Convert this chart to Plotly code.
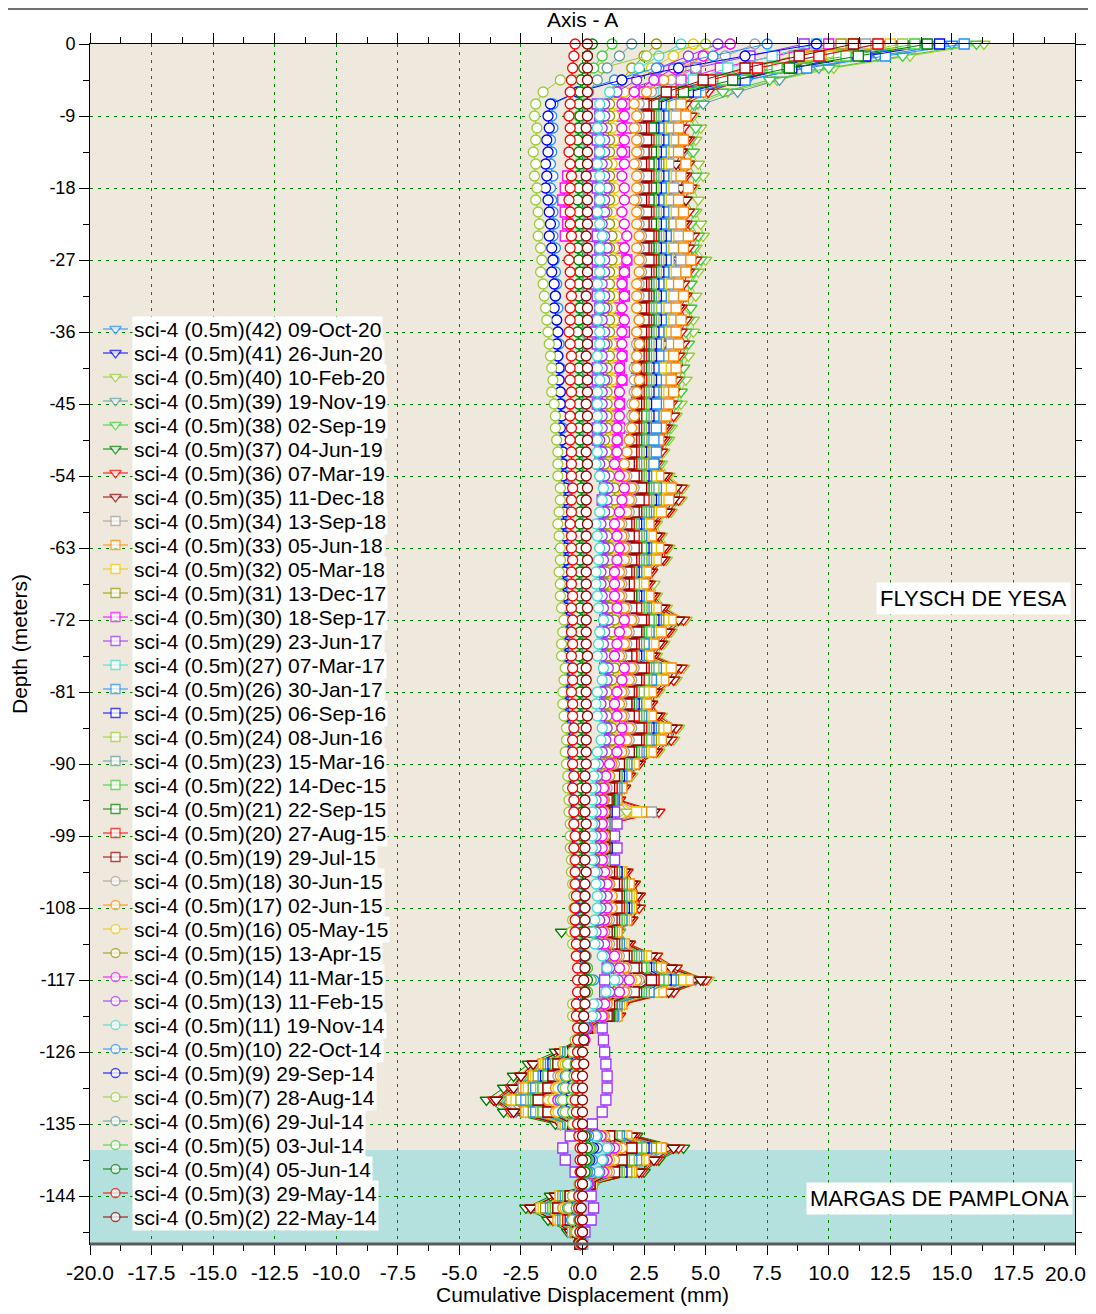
import plotly.graph_objects as go

# Inclinometer sci-4, axis A: cumulative displacement (mm) read every 1.5 m of depth
DEPTH_STEP = 1.5
depths = [-DEPTH_STEP * i for i in range(101)]

depth_ticks = [0, -9, -18, -27, -36, -45, -54, -63, -72, -81, -90, -99, -108, -117, -126, -135, -144]
depth_tick_text = ["0", "-9", "-18", "-27", "-36", "-45", "-54", "-63", "-72", "-81", "-90",
                   "-99", "-108", "-117", "-126", "-135", "-144"]
disp_ticks = [-20, -17.5, -15, -12.5, -10, -7.5, -5, -2.5, 0, 2.5, 5, 7.5, 10, 12.5, 15, 17.5, 20]
disp_tick_text = ["-20.0", "-17.5", "-15.0", "-12.5", "-10.0", "-7.5", "-5.0", "-2.5", "0.0",
                  "2.5", "5.0", "7.5", "10.0", "12.5", "15.0", "17.5", "20.0"]

labels = [
    "sci-4 (0.5m)(42) 09-Oct-20", "sci-4 (0.5m)(41) 26-Jun-20", "sci-4 (0.5m)(40) 10-Feb-20",
    "sci-4 (0.5m)(39) 19-Nov-19", "sci-4 (0.5m)(38) 02-Sep-19", "sci-4 (0.5m)(37) 04-Jun-19",
    "sci-4 (0.5m)(36) 07-Mar-19", "sci-4 (0.5m)(35) 11-Dec-18", "sci-4 (0.5m)(34) 13-Sep-18",
    "sci-4 (0.5m)(33) 05-Jun-18", "sci-4 (0.5m)(32) 05-Mar-18", "sci-4 (0.5m)(31) 13-Dec-17",
    "sci-4 (0.5m)(30) 18-Sep-17", "sci-4 (0.5m)(29) 23-Jun-17", "sci-4 (0.5m)(27) 07-Mar-17",
    "sci-4 (0.5m)(26) 30-Jan-17", "sci-4 (0.5m)(25) 06-Sep-16", "sci-4 (0.5m)(24) 08-Jun-16",
    "sci-4 (0.5m)(23) 15-Mar-16", "sci-4 (0.5m)(22) 14-Dec-15", "sci-4 (0.5m)(21) 22-Sep-15",
    "sci-4 (0.5m)(20) 27-Aug-15", "sci-4 (0.5m)(19) 29-Jul-15", "sci-4 (0.5m)(18) 30-Jun-15",
    "sci-4 (0.5m)(17) 02-Jun-15", "sci-4 (0.5m)(16) 05-May-15", "sci-4 (0.5m)(15) 13-Apr-15",
    "sci-4 (0.5m)(14) 11-Mar-15", "sci-4 (0.5m)(13) 11-Feb-15", "sci-4 (0.5m)(11) 19-Nov-14",
    "sci-4 (0.5m)(10) 22-Oct-14", "sci-4 (0.5m)(9) 29-Sep-14", "sci-4 (0.5m)(7) 28-Aug-14",
    "sci-4 (0.5m)(6) 29-Jul-14", "sci-4 (0.5m)(5) 03-Jul-14", "sci-4 (0.5m)(4) 05-Jun-14",
    "sci-4 (0.5m)(3) 29-May-14", "sci-4 (0.5m)(2) 22-May-14",
]

s42 = [15.0, 12.0, 9.0, 6.7, 4.8,
       3.5, 3.6, 3.4, 3.6, 3.5, 3.3, 3.6, 3.5, 3.4, 3.6, 3.5, 3.7, 3.5, 3.8, 3.6, 3.4, 3.5, 3.3, 3.4, 3.3, 3.4, 3.2, 3.1, 3.2, 3.1, 3.0, 2.9, 2.8, 2.7, 2.6, 2.5,
       2.7, 3.2, 3.1, 2.8, 2.3, 2.5, 2.7, 2.6, 2.2, 2.1, 2.3, 2.6, 3.3, 2.8, 2.5, 2.3, 3.2, 3.0, 2.4, 2.2, 2.4, 3.1, 2.9, 2.4,
       1.8, 1.6, 1.4, 1.3, 1.1, 0.9, 1.0, 1.1, 0.9, 1.5, 1.8, 2.0, 2.0, 1.7, 1.3, 1.6, 2.6, 3.2, 4.4, 3.2, 1.5, 1.3,
       0.2, -0.1, -0.8, -1.7, -2.2, -2.5, -3.1, -2.5, -0.8, 1.8, 3.4, 2.6, 2.1, 0.4, -1.0, -1.8, -1.0, -0.4, -0.1]
s41 = [13.5, 10.9, 8.4, 6.4, 4.7,
       3.6, 3.7, 3.5, 3.8, 3.6, 3.4, 3.7, 3.6, 3.5, 3.7, 3.6, 3.8, 3.6, 3.9, 3.7, 3.5, 3.6, 3.4, 3.5, 3.4, 3.3, 3.3, 3.1, 3.2, 3.1, 2.9, 3.0, 2.6, 2.7, 2.4, 2.2,
       2.2, 2.5, 2.4, 2.3, 1.9, 2.1, 2.2, 2.2, 1.9, 1.8, 2.0, 2.2, 2.6, 2.3, 2.1, 1.9, 2.5, 2.3, 2.0, 1.9, 2.1, 2.4, 2.3, 2.0,
       1.6, 1.4, 1.3, 1.2, 1.0, 0.8, 0.9, 1.0, 0.8, 1.4, 1.7, 1.8, 1.8, 1.6, 1.2, 1.5, 2.4, 3.0, 4.0, 2.9, 1.4, 1.2,
       0.2, -0.1, -0.7, -1.6, -2.0, -2.3, -2.9, -2.3, -0.7, 1.8, 3.2, 2.5, 2.0, 0.4, -0.9, -1.7, -1.0, -0.3, -0.1]
s40 = [16.3, 13.3, 10.2, 7.9, 5.9,
       4.7, 4.5, 4.8, 4.6, 4.4, 4.7, 4.9, 4.5, 4.7, 4.6, 4.8, 4.9, 4.6, 5.0, 4.7, 4.4, 4.6, 4.3, 4.5, 4.5, 4.2, 4.3, 4.1, 4.2, 4.0, 4.0, 3.8, 3.6, 3.5, 3.3, 3.2,
       3.5, 4.1, 4.0, 3.6, 3.0, 3.2, 3.5, 3.4, 2.8, 2.9, 3.0, 3.4, 4.2, 3.6, 3.3, 3.0, 4.1, 3.8, 3.1, 2.8, 3.2, 3.9, 3.7, 3.1,
       2.3, 2.0, 1.7, 1.5, 1.8, 1.1, 1.2, 1.1, 1.1, 1.8, 2.1, 2.3, 2.3, 2.0, 1.5, 1.9, 3.0, 3.8, 5.1, 3.7, 1.7, 1.5,
       0.3, -0.2, -1.0, -2.0, -2.6, -3.0, -3.6, -3.0, -1.0, 2.1, 3.9, 3.1, 2.4, 0.4, -1.2, -2.2, -1.3, -0.5, -0.1]
s39 = [14.0, 11.6, 9.6, 8.0, 6.3,
       4.9, 4.2, 4.0, 4.3, 4.1, 4.0, 4.2, 3.9, 4.2, 4.1, 4.0, 4.4, 4.2, 4.4, 4.1, 4.0, 4.1, 3.9, 4.1, 3.9, 4.0, 3.8, 3.7, 3.7, 3.6, 3.5, 3.6, 3.3, 3.2, 3.1, 3.0,
       3.2, 3.8, 3.7, 3.3, 2.8, 2.9, 3.2, 3.1, 2.7, 2.6, 2.8, 3.1, 3.9, 3.3, 3.0, 2.8, 3.8, 3.5, 2.9, 2.7, 2.9, 3.6, 3.4, 2.9,
       2.2, 1.9, 1.6, 1.4, 1.1, 1.0, 1.0, 1.1, 1.0, 1.7, 1.9, 2.1, 2.1, 1.8, 1.4, 1.8, 2.7, 3.5, 4.6, 3.4, 1.6, 1.4,
       0.2, -0.1, -0.9, -1.9, -2.3, -2.7, -3.3, -2.7, -0.9, 1.9, 3.5, 2.7, 2.2, 0.4, -1.0, -1.9, -1.1, -0.4, -0.1]
s38 = [16.0, 13.0, 10.0, 7.6, 5.7,
       4.5, 4.3, 4.6, 4.4, 4.5, 4.3, 4.6, 4.4, 4.2, 4.5, 4.4, 4.7, 4.5, 4.8, 4.5, 4.4, 4.2, 4.4, 4.3, 4.2, 4.3, 4.0, 4.1, 3.9, 4.0, 3.8, 3.7, 3.5, 3.4, 3.2, 3.1,
       3.4, 3.9, 3.8, 3.5, 2.9, 3.1, 3.4, 3.3, 2.8, 2.7, 2.9, 3.3, 4.0, 3.5, 3.2, 2.9, 3.9, 3.7, 3.0, 2.8, 3.1, 3.8, 3.5, 3.0,
       2.3, 1.9, 1.7, 1.5, 1.2, 1.1, 1.0, 1.1, 1.1, 1.8, 2.1, 2.3, 2.2, 2.0, 1.5, 1.9, 2.9, 3.7, 4.9, 3.6, 1.7, 1.5,
       0.3, -0.1, -0.9, -1.9, -2.4, -2.8, -3.4, -2.8, -0.9, 2.1, 3.8, 2.9, 2.3, 0.5, -1.1, -2.0, -1.2, -0.4, -0.1]
s37 = [13.0, 10.4, 7.7, 5.7, 4.0,
       2.9, 3.0, 2.8, 3.1, 2.9, 2.8, 3.0, 2.9, 3.1, 2.8, 3.0, 3.0, 3.1, 2.9, 3.0, 2.8, 2.9, 2.7, 2.9, 2.8, 2.7, 2.8, 2.6, 2.7, 2.6, 2.7, 2.5, 2.5, 2.4, 2.4, 2.3,
       2.8, 3.4, 3.3, 2.9, 2.3, 2.5, 2.8, 2.7, 2.2, 2.1, 2.3, 2.7, 3.5, 2.9, 2.6, 2.3, 3.4, 3.1, 2.4, 2.2, 2.5, 3.2, 3.0, 2.4,
       1.8, 1.6, 1.4, 1.3, 1.0, 0.9, 1.0, 1.0, 0.9, 1.6, 1.9, 2.1, 2.1, 1.8, -0.85, 1.7, 2.8, 3.6, 4.9, 3.5, 1.5, 1.3,
       0.2, -0.2, -1.1, -2.2, -2.8, -3.2, -3.9, -3.2, -1.1, 2.2, 4.1, 3.1, 2.5, 0.4, -1.3, -2.3, -1.4, -0.6, -0.1]
s36 = [12.5, 10.3, 8.2, 6.5, 5.1,
       4.2, 4.4, 4.1, 4.3, 4.0, 4.3, 4.2, 4.4, 4.1, 4.3, 4.2, 4.5, 4.3, 4.6, 4.3, 4.1, 4.2, 4.0, 4.2, 4.0, 4.1, 3.9, 3.8, 3.8, 3.7, 3.6, 3.7, 3.4, 3.3, 3.2, 3.0,
       3.4, 4.0, 3.9, 3.5, 2.9, 3.1, 3.4, 3.3, 2.8, 2.7, 2.9, 3.3, 4.1, 3.5, 3.2, 2.9, 4.0, 3.7, 3.0, 2.8, 3.1, 3.8, 3.6, 3.0,
       2.3, 1.9, 1.7, 1.5, 3.1, 1.1, 1.0, 1.1, 1.1, 1.8, 2.1, 2.3, 2.3, 2.0, 1.4, 1.9, 3.0, 3.8, 5.0, 3.7, 1.7, 1.5,
       0.3, -0.2, -0.9, -2.0, -2.5, -2.9, -3.6, -2.9, -0.9, 2.1, 3.9, 3.0, 2.4, 0.4, -1.1, -2.1, -1.2, -0.5, -0.1]
s35 = [12.0, 9.9, 7.8, 6.2, 4.9,
       4.0, 4.1, 3.9, 4.2, 4.0, 3.8, 4.1, 4.0, 4.2, 3.9, 4.1, 4.3, 4.1, 4.4, 4.2, 3.9, 4.1, 3.9, 4.0, 3.8, 3.9, 3.7, 3.8, 3.6, 3.7, 3.5, 3.4, 3.3, 3.2, 3.0, 2.9,
       3.3, 3.8, 3.7, 3.4, 2.8, 3.0, 3.3, 3.2, 2.7, 2.6, 2.8, 3.2, 3.9, 3.4, 3.1, 2.8, 3.8, 3.5, 2.9, 2.7, 3.0, 3.6, 3.4, 2.9,
       2.2, 1.8, 1.6, 1.4, 2.9, 1.0, 1.0, 1.1, 1.0, 1.7, 2.0, 2.2, 2.1, 1.9, 1.3, 1.8, 2.8, 3.6, 4.8, 3.5, 1.6, 1.4,
       0.2, -0.2, -0.9, -2.0, -2.5, -2.8, -3.5, -2.8, -0.9, 2.0, 3.7, 2.9, 2.3, 0.4, -1.1, -2.1, -1.2, -0.5, -0.1]
s34 = [11.5, 9.5, 7.4, 5.9, 4.6,
       3.7, 3.8, 3.6, 3.8, 3.7, 3.5, 3.8, 3.7, 3.6, 3.8, 3.7, 3.9, 3.7, 4.0, 3.8, 3.6, 3.7, 3.5, 3.6, 3.5, 3.6, 3.4, 3.5, 3.4, 3.3, 3.2, 3.3, 3.0, 3.0, 2.9, 2.7,
       3.0, 3.5, 3.4, 3.1, 2.6, 2.7, 3.0, 2.9, 2.5, 2.4, 2.6, 2.9, 3.5, 3.1, 2.8, 2.6, 3.5, 3.2, 2.7, 2.5, 2.7, 3.3, 3.1, 2.7,
       2.0, 1.7, 1.5, 1.3, 2.8, 1.0, 0.9, 1.0, 1.0, 1.5, 1.8, 1.9, 1.9, 1.7, 1.3, 1.6, 2.5, 3.1, 4.2, 3.1, 1.5, 1.3,
       0.3, -0.1, -0.7, -1.5, -2.0, -2.4, -2.8, -2.3, -0.8, 1.7, 3.2, 2.4, 2.0, 0.3, -0.9, -1.6, -0.9, -0.4, -0.1]
s33 = [11.0, 9.2, 7.4, 6.0, 4.8,
       4.0, 4.2, 3.9, 4.1, 3.9, 4.2, 4.0, 4.3, 3.9, 4.1, 4.0, 4.3, 4.1, 4.4, 4.2, 3.9, 4.1, 3.8, 4.0, 3.8, 3.9, 3.7, 3.8, 3.6, 3.7, 3.5, 3.4, 3.2, 3.1, 3.0, 2.8,
       3.1, 3.6, 3.5, 3.2, 2.7, 2.8, 3.1, 3.0, 2.6, 2.5, 2.7, 3.0, 3.6, 3.2, 2.9, 2.7, 3.6, 3.3, 2.8, 2.6, 2.8, 3.4, 3.2, 2.8,
       2.1, 1.8, 1.6, 1.4, 2.4, 1.0, 1.0, 1.1, 1.0, 1.6, 1.9, 2.0, 2.0, 1.8, 1.4, 1.7, 2.6, 3.2, 4.3, 3.2, 1.6, 1.4,
       0.3, -0.1, -0.7, -1.6, -2.0, -2.3, -2.9, -2.3, -0.7, 1.8, 3.2, 2.5, 2.0, 0.4, -0.9, -1.7, -1.0, -0.3, -0.1]
s32 = [12.5, 10.1, 7.7, 5.9, 4.3,
       3.3, 3.4, 3.2, 3.4, 3.3, 3.2, 3.4, 3.3, 3.2, 3.4, 3.3, 3.5, 3.3, 3.5, 3.4, 3.2, 3.3, 3.1, 3.3, 3.2, 3.1, 3.0, 3.2, 3.0, 3.1, 2.9, 2.9, 2.7, 2.8, 2.6, 2.5,
       2.8, 3.2, 3.1, 2.8, 2.4, 2.5, 2.8, 2.7, 2.3, 2.2, 2.4, 2.7, 3.3, 2.8, 2.6, 2.4, 3.2, 3.0, 2.5, 2.3, 2.5, 3.1, 2.9, 2.5,
       1.9, 1.6, 1.4, 1.3, 2.2, 1.0, 0.9, 1.0, 0.9, 1.5, 1.7, 1.9, 1.9, 1.7, 1.3, 1.6, 2.4, 3.0, 4.0, 2.9, 1.5, 1.3,
       0.2, -0.1, -0.7, -1.5, -1.9, -2.2, -2.7, -2.2, -0.7, 1.6, 3.0, 2.3, 1.9, 0.3, -0.9, -1.6, -0.9, -0.3, -0.1]
s31 = [10.5, 8.6, 6.7, 5.2, 4.0,
       3.2, 3.3, 3.1, 3.3, 3.2, 3.1, 3.3, 3.2, 3.1, 3.2, 3.3, 3.4, 3.2, 3.4, 3.3, 3.1, 3.2, 3.0, 3.2, 3.1, 3.0, 3.0, 2.9, 2.9, 3.0, 2.8, 2.8, 2.6, 2.7, 2.5, 2.4,
       2.6, 3.0, 3.0, 2.7, 2.3, 2.4, 2.6, 2.6, 2.2, 2.1, 2.3, 2.6, 3.1, 2.7, 2.5, 2.3, 3.0, 2.8, 2.3, 2.2, 2.4, 2.9, 2.8, 2.4,
       1.8, 1.5, 1.3, 1.2, 1.0, 0.9, 0.9, 1.0, 0.9, 1.4, 1.6, 1.8, 1.8, 1.6, 1.2, 1.5, 2.3, 2.8, 3.7, 2.7, 1.4, 1.2,
       0.2, -0.1, -0.6, -1.4, -1.8, -2.0, -2.5, -2.0, -0.6, 1.5, 2.8, 2.2, 1.8, 0.3, -0.8, -1.5, -0.8, -0.3, -0.1]
s30 = [10.0, 7.8, 5.6, 4.0, 2.5,
       1.7, 1.6, 1.8, 1.5, 1.7, 1.4, -0.6, -0.7, -0.8, -0.7, -0.6, -0.7, 1.6, 1.8, 1.7, 1.6, 1.7, 1.5, 1.6, 1.7, 1.5, 1.6, 1.5, 1.6, 1.4, 1.5, 1.4, 1.5, 1.4, 1.3, 1.4,
       1.7, 2.0, 1.9, 1.7, 1.4, 1.5, 1.7, 1.6, 1.4, 1.3, 1.5, 1.6, 2.0, 1.7, 1.6, 1.4, 2.0, 1.8, 1.5, 1.4, 1.5, 1.9, 1.8, 1.5,
       1.2, 1.1, 1.1, 1.0, 0.9, 0.8, 0.8, 0.9, 0.8, 1.1, 1.3, 1.4, 1.4, 1.2, 1.0, 1.2, 1.7, 2.1, 2.8, 2.1, 1.1, 1.0,
       0.2, 0.0, -0.4, -0.9, -1.2, -1.4, -1.8, -1.4, -0.4, 1.1, 2.0, 1.6, 1.3, 0.3, -0.5, -1.0, -0.5, -0.2, 0.0]
s29 = [9.0, 6.8, 4.6, 3.0, 1.5,
       0.6, 0.7, 0.5, 0.6, 0.7, 0.6, 0.5, 0.6, 0.7, 0.6, 0.5, 0.6, 0.7, 0.6, 0.6, 0.5, 0.6, 0.7, 0.6, 0.5, 0.6, 0.7, 0.6, 0.6, 0.5, 0.6, 0.7, 0.6, 0.6, 0.7, 0.7,
       0.8, 0.9, 0.8, 0.9, 0.8, 0.9, 1.0, 0.9, 0.8, 0.9, 0.9, 1.0, 0.9, 0.8, 0.9, 1.0, 0.9, 1.0, 0.9, 1.0, 1.1, 1.0, 1.1, 1.0,
       1.1, 1.2, 1.2, 1.3, 1.3, 1.4, 1.3, 1.4, 1.3, 1.4, 1.3, 1.4, 1.3, 1.2, 1.1, 1.2, 1.1, 1.0, 0.9, 0.9, 0.9, 0.85,
       0.8, 0.85, 0.9, 0.95, 1.0, 1.0, 0.95, 0.8, 0.4, -0.5, -0.8, -0.7, -0.3, 0.1, 0.35, 0.45, 0.35, 0.1, 0.0]
s27 = [9.5, 7.7, 5.9, 4.5, 3.3,
       2.5, 2.6, 2.4, 2.6, 2.5, 2.4, 2.6, 2.5, 2.4, 2.6, 2.5, 2.6, 2.5, 2.7, 2.5, 2.4, 2.5, 2.4, 2.5, 2.4, 2.5, 2.4, 2.3, 2.4, 2.3, 2.3, 2.2, 2.2, 2.1, 2.1, 2.0,
       2.2, 2.6, 2.5, 2.3, 1.9, 2.1, 2.2, 2.2, 1.9, 1.8, 2.0, 2.2, 2.6, 2.3, 2.1, 1.9, 2.6, 2.4, 2.0, 1.9, 2.1, 2.5, 2.3, 2.0,
       1.6, 1.4, 1.2, 1.1, 0.9, 0.8, 0.9, 0.9, 0.8, 1.3, 1.4, 1.5, 1.5, 1.4, 1.1, 1.3, 1.9, 2.4, 3.1, 2.3, 1.2, 1.1,
       0.2, 0.0, -0.4, -1.0, -1.3, -1.5, -1.9, -1.5, -0.4, 1.3, 2.3, 1.8, 1.5, 0.3, -0.5, -1.1, -0.6, -0.2, 0.0]
s26 = [15.5, 12.3, 9.1, 6.6, 4.6,
       3.2, 3.3, 3.1, 3.3, 3.2, 3.0, 3.3, 3.2, 3.1, 3.3, 3.2, 3.4, 3.2, 3.4, 3.3, 3.1, 3.2, 3.0, 3.2, 3.1, 3.0, 3.1, 2.9, 3.0, 2.9, 3.0, 2.9, 3.0, 2.9, 3.0, 2.9,
       2.6, 3.0, 2.9, 2.6, 2.3, 2.4, 2.6, 2.5, 2.2, 2.1, 2.3, 2.5, 3.0, 2.7, 2.5, 2.3, 3.0, 2.8, 2.3, 2.2, 2.4, 2.8, 2.7, 2.3,
       1.8, 1.6, 1.4, 1.25, 1.0, 0.9, 0.9, 1.0, 0.9, 1.4, 1.6, 1.7, 1.8, 1.6, 1.2, 1.5, 2.2, 2.7, 3.6, 2.7, 1.4, 1.25,
       0.2, 0.0, -0.6, -1.3, -1.6, -1.9, -2.3, -1.9, -0.6, 1.5, 2.6, 2.0, 1.6, 0.3, -0.7, -1.3, -0.8, -0.2, -0.1]
s25 = [14.5, 11.5, 8.5, 6.2, 4.3,
       3.0, 3.1, 2.9, 3.1, 3.0, 2.9, 3.1, 3.0, 2.9, 3.1, 3.0, 3.2, 3.0, 3.2, 3.1, 2.9, 3.0, 2.8, 3.0, 2.9, 2.8, 2.8, 2.7, 2.8, 2.7, 2.6, 2.7, 2.5, 2.4, 2.4, 2.3,
       2.5, 2.8, 2.8, 2.5, 2.2, 2.3, 2.5, 2.4, 2.1, 2.0, 2.2, 2.4, 2.9, 2.5, 2.3, 2.2, 2.8, 2.6, 2.2, 2.1, 2.3, 2.7, 2.6, 2.2,
       1.7, 1.5, 1.3, 1.2, 1.0, 0.9, 0.9, 1.0, 0.9, 1.4, 1.6, 1.7, 1.7, 1.5, 1.2, 1.4, 2.1, 2.6, 3.4, 2.5, 1.3, 1.2,
       0.2, 0.0, -0.5, -1.2, -1.5, -1.7, -2.1, -1.7, -0.5, 1.4, 2.5, 1.9, 1.6, 0.3, -0.6, -1.2, -0.7, -0.2, -0.1]
s24 = [13.0, 10.4, 7.7, 5.7, 4.0,
       2.9, 3.0, 2.8, 3.0, 2.9, 2.8, 3.0, 2.9, 2.8, 3.0, 2.9, 3.1, 2.9, 3.1, 3.0, 2.8, 2.9, 2.8, 2.9, 2.8, 2.7, 2.7, 2.6, 2.7, 2.6, 2.5, 2.6, 2.4, 2.4, 2.3, 2.3,
       2.4, 2.9, 2.7, 2.5, 2.1, 2.3, 2.4, 2.4, 2.0, 2.1, 2.1, 2.4, 2.8, 2.6, 2.3, 2.1, 2.9, 2.6, 2.3, 2.0, 2.3, 2.6, 2.6, 2.2,
       1.7, 1.4, 1.3, 1.2, 0.9, 0.9, 0.9, 0.9, 0.9, 1.3, 1.6, 1.7, 1.6, 1.5, 1.2, 1.4, 2.1, 2.5, 3.3, 2.5, 1.3, 1.2,
       0.2, 0.0, -0.5, -1.1, -1.4, -1.7, -2.1, -1.7, -0.5, 1.4, 2.4, 1.9, 1.5, 0.3, -0.6, -1.2, -0.7, -0.2, -0.1]
s23 = [12.0, 9.6, 7.2, 5.4, 3.8,
       2.8, 2.9, 2.7, 2.9, 2.8, 2.7, 2.9, 2.8, 2.7, 2.9, 2.8, 3.0, 2.8, 3.0, 2.9, 2.7, 2.8, 2.7, 2.8, 2.7, 2.6, 2.6, 2.5, 2.6, 2.5, 2.4, 2.5, 2.3, 2.3, 2.2, 2.2,
       2.3, 2.7, 2.6, 2.4, 2.1, 2.2, 2.3, 2.3, 2.0, 1.9, 2.1, 2.3, 2.7, 2.4, 2.2, 2.0, 2.7, 2.5, 2.1, 2.0, 2.2, 2.6, 2.4, 2.1,
       1.6, 1.4, 1.3, 1.15, 0.9, 0.9, 0.9, 0.9, 0.8, 1.3, 1.5, 1.6, 1.6, 1.4, 1.1, 1.4, 2.0, 2.4, 3.1, 2.4, 1.3, 1.15,
       0.2, 0.0, -0.5, -1.1, -1.3, -1.6, -2.0, -1.6, -0.5, 1.2, 2.2, 1.7, 1.4, 0.3, -0.6, -1.1, -0.6, -0.2, -0.1]
s22 = [13.5, 10.7, 7.9, 5.7, 3.9,
       2.7, 2.8, 2.6, 2.8, 2.7, 2.6, 2.8, 2.7, 2.6, 2.8, 2.7, 2.9, 2.7, 2.9, 2.8, 2.6, 2.7, 2.6, 2.7, 2.6, 2.5, 2.5, 2.4, 2.5, 2.4, 2.4, 2.4, 2.3, 2.2, 2.2, 2.1,
       2.3, 2.6, 2.6, 2.3, 2.0, 2.2, 2.4, 2.2, 2.0, 1.9, 2.0, 2.3, 2.7, 2.4, 2.1, 2.0, 2.6, 2.5, 2.1, 1.9, 2.2, 2.5, 2.4, 2.1,
       1.6, 1.4, 1.2, 1.1, 0.9, 0.8, 0.9, 0.9, 0.8, 1.3, 1.4, 1.5, 1.6, 1.4, 1.1, 1.3, 1.9, 2.4, 3.1, 2.3, 1.2, 1.1,
       0.2, 0.0, -0.5, -1.1, -1.4, -1.6, -1.9, -1.6, -0.5, 1.2, 2.2, 1.7, 1.4, 0.3, -0.6, -1.1, -0.6, -0.2, -0.1]
s21 = [14.0, 11.2, 8.4, 6.1, 4.1,
       2.9, 2.7, 2.8, 2.6, 2.8, 2.7, 2.6, 2.8, 2.7, 2.6, 2.8, 2.9, 2.7, 2.9, 2.8, 2.6, 2.7, 2.5, 2.7, 2.6, 2.5, 2.5, 2.4, 2.4, 2.3, 2.3, 2.2, 2.1, 2.2, 2.0, 2.0,
       2.2, 2.5, 2.4, 2.2, 1.9, 2.0, 2.2, 2.1, 1.9, 1.8, 2.0, 2.1, 2.5, 2.3, 2.1, 1.9, 2.5, 2.3, 2.0, 1.9, 2.0, 2.4, 2.3, 2.0,
       1.5, 1.3, 1.2, 1.1, 0.9, 0.8, 0.9, 0.9, 0.8, 1.2, 1.4, 1.5, 1.5, 1.3, 1.1, 1.3, 1.8, 2.2, 2.9, 2.2, 1.2, 1.1,
       0.2, 0.0, -0.4, -1.0, -1.2, -1.4, -1.8, -1.4, -0.4, 1.1, 2.0, 1.6, 1.3, 0.3, -0.5, -1.0, -0.5, -0.2, -0.1]
s20 = [12.0, 9.6, 7.1, 5.2, 3.6,
       2.6, 2.7, 2.5, 2.7, 2.6, 2.5, 2.7, 2.6, 2.5, 2.7, 2.6, 2.8, 2.6, 2.8, 2.7, 2.5, 2.6, 2.5, 2.6, 2.5, 2.4, 2.4, 2.3, 2.4, 2.3, 2.3, 2.2, 2.2, 2.1, 2.1, 2.0,
       2.2, 2.4, 2.5, 2.2, 1.9, 2.1, 2.2, 2.1, 1.9, 1.9, 1.9, 2.2, 2.5, 2.2, 2.1, 2.0, 2.5, 2.3, 2.0, 1.8, 2.1, 2.4, 2.3, 1.9,
       1.5, 1.3, 1.2, 1.05, 0.9, 0.8, 0.9, 0.9, 0.8, 1.2, 1.4, 1.4, 1.5, 1.3, 1.0, 1.3, 1.8, 2.2, 2.9, 2.1, 1.1, 1.05,
       0.2, 0.0, -0.4, -0.9, -1.2, -1.4, -1.7, -1.4, -0.4, 1.1, 2.0, 1.6, 1.3, 0.3, -0.5, -1.0, -0.6, -0.2, -0.1]
s19 = [11.0, 8.8, 6.6, 4.9, 3.4,
       2.5, 2.6, 2.4, 2.6, 2.5, 2.4, 2.6, 2.5, 2.4, 2.6, 2.5, 2.7, 2.5, 2.7, 2.6, 2.4, 2.5, 2.4, 2.5, 2.4, 2.3, 2.3, 2.2, 2.3, 2.2, 2.2, 2.1, 2.1, 2.0, 2.0, 1.9,
       2.1, 2.4, 2.3, 2.1, 1.8, 1.9, 2.1, 2.0, 1.8, 1.7, 1.9, 2.0, 2.4, 2.2, 2.0, 1.8, 2.4, 2.2, 1.9, 1.8, 1.9, 2.3, 2.2, 1.9,
       1.5, 1.3, 1.1, 1.0, 0.9, 0.8, 0.8, 0.9, 0.8, 1.1, 1.3, 1.4, 1.4, 1.2, 1.0, 1.2, 1.7, 2.1, 2.8, 2.1, 1.1, 1.0,
       0.2, 0.0, -0.4, -1.0, -1.2, -1.4, -1.8, -1.4, -0.4, 1.1, 2.0, 1.6, 1.3, 0.3, -0.5, -1.0, -0.5, -0.2, -0.1]
s18 = [7.0, 5.8, 4.6, 3.6, 2.8,
       2.3, 2.3, 2.2, 2.3, 2.3, 2.2, 2.3, 2.3, 2.2, 2.3, 2.3, 2.4, 2.3, 2.4, 2.4, 2.3, 2.3, 2.2, 2.3, 2.2, 2.2, 2.2, 2.1, 2.1, 2.1, 2.0, 2.0, 1.9, 1.9, 1.8, 1.7,
       1.8, 2.1, 2.0, 1.9, 1.6, 1.7, 1.8, 1.8, 1.6, 1.6, 1.6, 1.8, 2.1, 1.9, 1.8, 1.6, 2.1, 2.0, 1.7, 1.6, 1.7, 2.0, 1.9, 1.7,
       1.3, 1.1, 1.0, 0.9, 0.9, 0.9, 0.9, 0.9, 0.9, 1.0, 1.1, 1.2, 1.2, 1.1, 0.9, 1.1, 1.5, 1.8, 2.3, 1.8, 1.0, 0.9,
       0.2, 0.0, -0.3, -0.8, -1.0, -1.1, -1.4, -1.1, -0.3, 0.9, 1.6, 1.3, 1.1, 0.25, -0.4, -0.8, -0.4, -0.1, 0.0]
s17 = [6.0, 5.0, 4.0, 3.3, 2.6,
       2.1, 2.2, 2.1, 2.2, 2.2, 2.1, 2.2, 2.2, 2.1, 2.2, 2.2, 2.3, 2.2, 2.3, 2.3, 2.2, 2.2, 2.2, 2.3, 2.2, 2.3, 2.2, 2.2, 2.3, 2.2, 2.1, 2.1, 2.0, 1.9, 1.8, 1.7,
       1.7, 2.0, 1.9, 1.8, 1.5, 1.6, 1.7, 1.7, 1.5, 1.5, 1.5, 1.7, 2.0, 1.8, 1.7, 1.5, 2.0, 1.9, 1.6, 1.5, 1.6, 1.9, 1.8, 1.6,
       1.2, 1.1, 0.9, 0.85, 0.9, 0.8, 0.9, 0.9, 0.8, 1.0, 1.1, 1.2, 1.2, 1.0, 0.9, 1.0, 1.4, 1.7, 2.2, 1.7, 1.0, 0.85,
       0.2, 0.0, -0.3, -0.8, -0.9, -1.1, -1.4, -1.1, -0.3, 0.9, 1.6, 1.3, 1.0, 0.25, -0.4, -0.8, -0.4, -0.1, 0.0]
s16 = [4.5, 3.7, 2.8, 2.2, 1.7,
       1.3, 1.3, 1.2, 1.3, 1.3, 1.2, 1.3, 1.3, 1.3, 1.2, 1.3, 1.4, 1.3, 1.4, 1.3, 1.3, 1.3, 1.2, 1.3, 1.3, 1.2, 1.3, 1.2, 1.2, 1.2, 1.2, 1.1, 1.2, 1.1, 1.1, 1.1,
       1.3, 1.5, 1.5, 1.3, 1.1, 1.2, 1.3, 1.3, 1.1, 1.1, 1.1, 1.3, 1.6, 1.3, 1.2, 1.1, 1.5, 1.4, 1.2, 1.1, 1.2, 1.4, 1.4, 1.2,
       0.9, 0.8, 0.75, 0.7, 0.7, 0.7, 0.7, 0.7, 0.7, 0.8, 0.9, 1.0, 1.0, 0.9, 0.7, 0.8, 1.2, 1.5, 2.0, 1.5, 0.8, 0.7,
       0.1, 0.0, -0.3, -0.7, -0.8, -1.0, -1.2, -1.0, -0.3, 0.8, 1.4, 1.1, 0.9, 0.2, -0.4, -0.7, -0.4, -0.1, 0.0]
s15 = [3.0, 2.5, 2.0, 1.6, 1.3,
       1.1, 1.1, 1.0, 1.1, 1.1, 1.0, 1.1, 1.1, 1.1, 1.0, 1.1, 1.2, 1.1, 1.2, 1.1, 1.1, 1.1, 1.0, 1.1, 1.1, 1.0, 1.1, 1.0, 1.0, 1.0, 1.0, 1.0, 1.0, 0.9, 1.0, 0.9,
       1.1, 1.3, 1.3, 1.1, 1.0, 1.0, 1.1, 1.1, 0.95, 0.9, 1.0, 1.1, 1.3, 1.2, 1.1, 1.0, 1.3, 1.2, 1.0, 0.95, 1.0, 1.2, 1.2, 1.0,
       0.8, 0.7, 0.65, 0.6, 0.6, 0.6, 0.6, 0.6, 0.6, 0.7, 0.8, 0.8, 0.8, 0.7, 0.6, 0.7, 1.0, 1.3, 1.7, 1.3, 0.7, 0.6,
       0.1, 0.0, -0.2, -0.6, -0.7, -0.8, -1.0, -0.8, -0.2, 0.7, 1.2, 1.0, 0.8, 0.2, -0.3, -0.6, -0.3, -0.1, 0.0]
s14 = [6.0, 4.9, 3.7, 2.9, 2.1,
       1.6, 1.7, 1.6, 1.7, 1.6, 1.7, 1.6, 1.7, 1.7, 1.6, 1.7, 1.8, 1.7, 1.8, 1.7, 1.6, 1.7, 1.6, 1.7, 1.6, 1.6, 1.6, 1.5, 1.6, 1.5, 1.5, 1.5, 1.4, 1.4, 1.4, 1.3,
       1.5, 1.7, 1.6, 1.5, 1.3, 1.4, 1.5, 1.4, 1.3, 1.3, 1.3, 1.4, 1.7, 1.5, 1.4, 1.3, 1.7, 1.6, 1.4, 1.3, 1.4, 1.6, 1.5, 1.4,
       1.1, 0.95, 0.85, 0.8, 0.8, 0.8, 0.8, 0.8, 0.8, 0.9, 1.0, 1.0, 1.0, 0.9, 0.8, 0.9, 1.3, 1.5, 1.9, 1.5, 0.9, 0.8,
       0.2, 0.1, -0.2, -0.5, -0.65, -0.75, -1.0, -0.75, -0.2, 0.75, 1.3, 1.0, 0.85, 0.25, -0.2, -0.5, -0.25, 0.0, 0.0]
s13 = [5.5, 4.3, 3.1, 2.2, 1.4,
       0.9, 0.9, 0.8, 0.9, 0.9, 0.8, 0.9, 1.0, 0.9, 0.9, 0.8, 0.9, 1.0, 0.9, 0.9, 0.8, 0.9, 0.9, 0.8, 0.9, 0.9, 0.8, 0.8, 0.9, 0.8, 0.8, 0.8, 0.8, 0.7, 0.8, 0.7,
       0.9, 1.05, 1.0, 0.9, 0.75, 0.8, 0.9, 0.85, 0.75, 0.75, 0.8, 0.85, 1.05, 0.9, 0.85, 0.8, 1.05, 1.0, 0.8, 0.75, 0.8, 1.0, 0.95, 0.8,
       0.65, 0.6, 0.55, 0.55, 0.55, 0.5, 0.55, 0.55, 0.5, 0.6, 0.7, 0.75, 0.75, 0.7, 0.55, 0.65, 0.9, 1.1, 1.45, 1.1, 0.6, 0.55,
       0.15, 0.05, -0.15, -0.4, -0.55, -0.65, -0.8, -0.65, -0.15, 0.6, 1.1, 0.85, 0.7, 0.2, -0.2, -0.45, -0.2, 0.0, 0.0]
s11 = [4.0, 3.1, 2.3, 1.6, 1.1,
       0.7, 0.7, 0.6, 0.7, 0.7, 0.6, 0.7, 0.7, 0.7, 0.6, 0.7, 0.8, 0.7, 0.7, 0.7, 0.6, 0.7, 0.7, 0.6, 0.7, 0.7, 0.6, 0.6, 0.7, 0.6, 0.6, 0.6, 0.6, 0.6, 0.6, 0.55,
       0.7, 0.85, 0.8, 0.7, 0.55, 0.6, 0.7, 0.65, 0.55, 0.55, 0.6, 0.65, 0.85, 0.7, 0.65, 0.6, 0.85, 0.8, 0.6, 0.55, 0.6, 0.8, 0.75, 0.6,
       0.5, 0.45, 0.4, 0.4, 0.4, 0.4, 0.4, 0.4, 0.4, 0.5, 0.55, 0.6, 0.6, 0.5, 0.4, 0.5, 0.8, 1.0, 1.3, 0.95, 0.45, 0.4,
       0.1, 0.0, -0.2, -0.5, -0.6, -0.7, -0.9, -0.7, -0.2, 0.55, 1.0, 0.8, 0.65, 0.15, -0.25, -0.5, -0.3, -0.1, 0.0]
s10 = [7.5, 5.3, 3.0, 1.3, -0.2,
       -1.2, -1.25, -1.2, -1.3, -1.25, -1.3, -1.2, -1.3, -1.25, -1.2, -1.15, -1.2, -1.1, -1.15, -1.1, -1.05, -1.1, -1.0, -1.05, -1.0, -0.95, -1.0, -0.9, -0.95, -0.9, -0.85, -0.9, -0.8, -0.85, -0.8, -0.75,
       -0.6, -0.5, -0.5, -0.6, -0.7, -0.65, -0.55, -0.6, -0.7, -0.65, -0.65, -0.6, -0.4, -0.5, -0.55, -0.6, -0.4, -0.45, -0.55, -0.6, -0.55, -0.4, -0.45, -0.5,
       -0.45, -0.4, -0.4, -0.35, -0.35, -0.3, -0.35, -0.3, -0.3, -0.25, -0.2, -0.15, -0.15, -0.2, -0.3, -0.2, 0.0, 0.15, 0.45, 0.15, -0.25, -0.3,
       -0.15, -0.2, -0.4, -0.6, -0.7, -0.8, -0.9, -0.8, -0.4, 0.25, 0.6, 0.4, 0.3, -0.1, -0.4, -0.6, -0.45, -0.25, -0.1]
s9 = [9.5, 6.6, 3.9, 1.6, -0.2,
      -1.3, -1.4, -1.35, -1.45, -1.4, -1.5, -1.45, -1.5, -1.4, -1.35, -1.3, -1.35, -1.25, -1.2, -1.25, -1.15, -1.1, -1.15, -1.05, -1.0, -1.05, -1.0, -0.95, -0.95, -0.9, -0.9, -0.85, -0.9, -0.85, -0.8, -0.8,
      -0.8, -0.7, -0.7, -0.75, -0.8, -0.75, -0.7, -0.7, -0.75, -0.8, -0.75, -0.7, -0.6, -0.65, -0.7, -0.7, -0.6, -0.6, -0.65, -0.7, -0.65, -0.55, -0.55, -0.6,
      -0.55, -0.5, -0.5, -0.45, -0.45, -0.4, -0.4, -0.4, -0.35, -0.35, -0.3, -0.25, -0.25, -0.3, -0.35, -0.3, -0.15, 0.0, 0.2, 0.0, -0.3, -0.3,
      -0.15, -0.2, -0.3, -0.5, -0.55, -0.6, -0.7, -0.6, -0.3, 0.15, 0.45, 0.3, 0.2, -0.1, -0.35, -0.5, -0.35, -0.2, -0.1]
s7 = [5.0, 2.6, 0.8, -0.9, -1.6,
      -1.9, -1.95, -1.85, -1.9, -2.0, -1.9, -1.95, -1.85, -1.9, -1.8, -1.75, -1.8, -1.7, -1.65, -1.7, -1.6, -1.55, -1.5, -1.45, -1.4, -1.35, -1.3, -1.25, -1.2, -1.25, -1.15, -1.1, -1.1, -1.05, -1.0, -1.0,
      -1.0, -0.9, -0.9, -0.95, -1.0, -0.95, -0.9, -0.9, -0.95, -0.9, -0.9, -0.85, -0.75, -0.8, -0.85, -0.85, -0.7, -0.75, -0.8, -0.8, -0.75, -0.65, -0.65, -0.7,
      -0.65, -0.6, -0.6, -0.55, -0.55, -0.5, -0.5, -0.5, -0.45, -0.45, -0.4, -0.35, -0.35, -0.4, -0.45, -0.4, -0.25, -0.1, 0.1, -0.1, -0.4, -0.4,
      -0.2, -0.3, -0.4, -0.6, -0.65, -0.7, -0.8, -0.7, -0.4, 0.05, 0.35, 0.2, 0.1, -0.15, -0.4, -0.55, -0.4, -0.25, -0.1]
s6 = [2.0, 1.5, 1.0, 0.6, 0.25,
      0.1, 0.05, 0.0, 0.05, 0.1, 0.05, 0.0, 0.05, 0.05, 0.1, 0.05, 0.0, 0.05, 0.1, 0.05, 0.0, 0.05, 0.05, 0.0, 0.05, 0.1, 0.05, 0.0, 0.05, 0.05, 0.0, 0.05, 0.0, 0.05, 0.0, 0.0,
      0.05, 0.1, 0.1, 0.05, 0.0, 0.0, 0.05, 0.05, 0.0, -0.05, 0.0, 0.05, 0.1, 0.05, 0.0, 0.0, 0.1, 0.1, 0.0, 0.0, 0.0, 0.1, 0.05, 0.0,
      0.0, 0.0, -0.05, 0.0, 0.0, 0.0, -0.05, 0.0, 0.0, 0.0, 0.05, 0.1, 0.1, 0.05, 0.0, 0.05, 0.15, 0.2, 0.35, 0.2, 0.05, 0.0,
      0.0, -0.05, -0.15, -0.25, -0.3, -0.35, -0.4, -0.35, -0.15, 0.15, 0.35, 0.25, 0.2, 0.0, -0.15, -0.25, -0.15, -0.1, 0.0]
s5 = [1.2, 0.8, 0.45, 0.2, 0.0,
      -0.1, -0.15, -0.2, -0.15, -0.1, -0.15, -0.2, -0.15, -0.15, -0.1, -0.15, -0.2, -0.15, -0.1, -0.15, -0.15, -0.2, -0.15, -0.1, -0.15, -0.15, -0.1, -0.15, -0.15, -0.1, -0.15, -0.1, -0.15, -0.1, -0.1, -0.1,
      -0.05, 0.0, 0.0, -0.05, -0.1, -0.1, -0.05, -0.05, -0.1, -0.15, -0.1, -0.05, 0.0, -0.05, -0.1, -0.1, 0.0, -0.05, -0.1, -0.1, -0.1, 0.0, -0.05, -0.1,
      -0.1, -0.1, -0.05, -0.05, -0.05, -0.05, -0.05, -0.05, -0.05, 0.0, 0.0, 0.05, 0.05, 0.0, -0.05, 0.0, 0.1, 0.2, 0.35, 0.2, 0.0, -0.05,
      -0.05, -0.1, -0.2, -0.3, -0.35, -0.4, -0.45, -0.4, -0.2, 0.1, 0.3, 0.2, 0.15, 0.0, -0.15, -0.25, -0.15, -0.1, 0.0]
s4 = [0.4, 0.2, 0.05, -0.05, -0.1,
      -0.15, -0.1, -0.15, -0.2, -0.15, -0.1, -0.15, -0.15, -0.2, -0.15, -0.1, -0.15, -0.2, -0.15, -0.1, -0.15, -0.15, -0.1, -0.15, -0.2, -0.15, -0.1, -0.15, -0.15, -0.1, -0.15, -0.1, -0.15, -0.1, -0.1, -0.15,
      -0.1, -0.05, -0.05, -0.1, -0.1, -0.15, -0.1, -0.1, -0.1, -0.15, -0.1, -0.1, -0.05, -0.1, -0.1, -0.15, -0.05, -0.05, -0.1, -0.1, -0.1, -0.05, -0.05, -0.1,
      -0.1, -0.05, -0.05, -0.05, 0.0, -0.05, 0.0, 0.0, -0.05, 0.0, 0.0, 0.05, 0.05, 0.0, 0.0, 0.0, 0.05, 0.1, 0.2, 0.1, 0.0, 0.0,
      0.0, -0.05, -0.1, -0.15, -0.2, -0.2, -0.25, -0.2, -0.1, 0.1, 0.2, 0.15, 0.1, 0.0, -0.1, -0.15, -0.1, -0.05, 0.0]
s3 = [-0.3, -0.35, -0.4, -0.45, -0.5,
      -0.5, -0.55, -0.5, -0.5, -0.55, -0.5, -0.45, -0.5, -0.55, -0.5, -0.5, -0.45, -0.5, -0.55, -0.5, -0.5, -0.45, -0.5, -0.5, -0.55, -0.5, -0.45, -0.5, -0.5, -0.45, -0.5, -0.5, -0.45, -0.5, -0.45, -0.45,
      -0.45, -0.4, -0.45, -0.45, -0.5, -0.45, -0.45, -0.4, -0.45, -0.45, -0.4, -0.45, -0.4, -0.45, -0.4, -0.45, -0.4, -0.4, -0.45, -0.4, -0.4, -0.35, -0.4, -0.4,
      -0.4, -0.35, -0.4, -0.35, -0.35, -0.35, -0.3, -0.35, -0.3, -0.3, -0.3, -0.25, -0.3, -0.3, -0.3, -0.25, -0.25, -0.2, -0.2, -0.2, -0.25, -0.25,
      -0.2, -0.2, -0.2, -0.25, -0.25, -0.25, -0.3, -0.25, -0.2, -0.15, -0.1, -0.1, -0.1, -0.1, -0.15, -0.15, -0.1, -0.1, -0.05]
s2 = [0.2, 0.2, 0.2, 0.2, 0.2,
      0.2, 0.2, 0.15, 0.2, 0.2, 0.2, 0.15, 0.2, 0.2, 0.2, 0.2, 0.15, 0.2, 0.2, 0.2, 0.2, 0.15, 0.2, 0.2, 0.2, 0.2, 0.15, 0.2, 0.2, 0.2, 0.15, 0.2, 0.2, 0.2, 0.15, 0.2,
      0.15, 0.2, 0.15, 0.15, 0.2, 0.15, 0.15, 0.2, 0.15, 0.15, 0.15, 0.2, 0.15, 0.15, 0.15, 0.2, 0.15, 0.15, 0.15, 0.15, 0.2, 0.15, 0.15, 0.15,
      0.15, 0.1, 0.15, 0.1, 0.1, 0.15, 0.1, 0.1, 0.1, 0.15, 0.1, 0.1, 0.1, 0.1, 0.1, 0.1, 0.1, 0.1, 0.05, 0.1, 0.1, 0.05,
      0.05, 0.05, 0.0, 0.05, 0.0, 0.0, 0.0, 0.0, 0.0, 0.0, 0.0, 0.0, -0.05, 0.0, 0.0, -0.05, 0.0, 0.0, 0.0]

series = [s42, s41, s40, s39, s38, s37, s36, s35, s34, s33, s32, s31, s30, s29, s27,
          s26, s25, s24, s23, s22, s21, s20, s19, s18, s17, s16, s15, s14, s13, s11,
          s10, s9, s7, s6, s5, s4, s3, s2]

for lab, vals in zip(labels, series):
    if len(vals) != len(depths):
        raise ValueError(f"{lab}: {len(vals)} values")

# colour cycle and marker shapes used by the inclinometer software
palette = ["#1E90FF", "#0000FF", "#9ACD32", "#5F9EA0", "#3CCF3C", "#008000", "#FF0000",
           "#990000", "#A0A0A0", "#FF8C00", "#EEC900", "#999900", "#FF00FF", "#9B30FF", "#40E0D0"]
colors = [palette[i % len(palette)] for i in range(len(series))]
symbols = ["triangle-down"] * 8 + ["square"] * 15 + ["circle"] * 15
sizes = {"triangle-down": 11, "square": 10, "circle": 10}

FONT = "Liberation Sans, Arial, Helvetica, sans-serif"

# the page adds an 8 px body margin; keep the figure inside the visible window
W, H = 1088, 1298
ML, MR, MT, MB = 82, 21, 36, 62
PW, PH = W - ML - MR, H - MT - MB
VISIBLE_RIGHT = W - 8   # last pixel column that is still shown

fig = go.Figure()

for lab, vals, col, sym in zip(labels, series, colors, symbols):
    fig.add_trace(go.Scatter(
        x=vals, y=depths, name=lab, mode="lines+markers",
        line=dict(color=col, width=1),
        marker=dict(symbol=sym, size=sizes[sym], color="white", line=dict(color=col, width=1.3)),
        cliponaxis=False, showlegend=False,
    ))

# hand-built legend so the rows can be as tight as in the original
ROW0, ROW_STEP = 285, 24
annotations = []
for i, (lab, col, sym) in enumerate(zip(labels, colors, symbols)):
    yr = ROW0 + ROW_STEP * i
    fig.add_trace(go.Scatter(
        x=[13, 25.5, 38], y=[yr, yr, yr], mode="lines+markers",
        xaxis="x2", yaxis="y2", showlegend=False, hoverinfo="skip",
        line=dict(color=col, width=1),
        marker=dict(symbol=sym, size=[0, sizes[sym] - 1, 0], color="white",
                    line=dict(color=col, width=[0, 1.3, 0])),
    ))
    annotations.append(dict(
        x=42, y=yr, xref="x2", yref="y2", text=lab, showarrow=False,
        xanchor="left", yanchor="middle", bgcolor="white", borderpad=1,
        font=dict(size=21, family=FONT, color="black"),
    ))

annotations += [
    dict(x=19.85, y=-69.25, xref="x", yref="y", text="FLYSCH DE YESA", showarrow=False,
         xanchor="right", yanchor="middle", bgcolor="white", borderpad=3,
         font=dict(size=22, family=FONT, color="black")),
    dict(x=19.9, y=-144.25, xref="x", yref="y", text="MARGAS DE PAMPLONA", showarrow=False,
         xanchor="right", yanchor="middle", bgcolor="white", borderpad=3,
         font=dict(size=22, family=FONT, color="black")),
    dict(x=0.5, y=1 + (MT - 12) / PH, xref="paper", yref="paper", text="Axis - A",
         showarrow=False, xanchor="center", yanchor="middle",
         font=dict(size=21, family=FONT, color="black")),
    # last x tick label, pulled left so it is not cut by the window edge
    dict(x=(VISIBLE_RIGHT - ML) / PW, y=-29 / PH, xref="paper", yref="paper",
         text=disp_tick_text[-1], showarrow=False, xanchor="right", yanchor="middle",
         font=dict(size=21, family=FONT, color="black")),
]

axis_tick_text = disp_tick_text[:-1] + [""]

grid = dict(showgrid=True, gridcolor="#008000", gridwidth=1, griddash="3px,5px", zeroline=False)

fig.update_layout(
    width=W, height=H, autosize=False,
    margin=dict(l=ML, r=MR, t=MT, b=MB, autoexpand=False),
    paper_bgcolor="white", plot_bgcolor="#EFE9DD",
    font=dict(family=FONT, size=21, color="black"),
    xaxis=dict(range=[-20, 20], tickmode="array", tickvals=disp_ticks, ticktext=axis_tick_text,
               ticks="outside", ticklen=10, tickcolor="black", automargin=False,
               showline=True, linecolor="black", linewidth=1, mirror="allticks",
               minor=dict(tickmode="linear", tick0=0, dtick=1.25, ticks="outside", ticklen=6,
                          tickcolor="black", showgrid=False),
               title=dict(text="Cumulative Displacement (mm)", standoff=6,
                          font=dict(size=21, family=FONT)),
               tickfont=dict(size=21), **grid),
    yaxis=dict(range=[-150, 0], tickmode="array", tickvals=depth_ticks, ticktext=depth_tick_text,
               ticks="outside", ticklen=10, tickcolor="black", automargin=False,
               showline=True, linecolor="black", linewidth=1, mirror="allticks",
               minor=dict(tickmode="linear", tick0=0, dtick=4.5, ticks="outside", ticklen=6,
                          tickcolor="black", showgrid=False),
               title=dict(text="Depth (meters)", standoff=22, font=dict(size=21, family=FONT)),
               tickfont=dict(size=18), **grid),
    xaxis2=dict(overlaying="x", anchor="y2", range=[0, PW], visible=False, fixedrange=True),
    yaxis2=dict(overlaying="y", anchor="x2", range=[PH, 0], visible=False, fixedrange=True),
    shapes=[
        dict(type="rect", xref="paper", yref="y", x0=0, x1=1, y0=-150, y1=-138.25,
             fillcolor="#B4E0DE", line=dict(width=0), layer="below"),
        dict(type="line", xref="paper", yref="paper", x0=0, x1=1, y0=0, y1=0,
             line=dict(color="#5A5A5A", width=3)),
        dict(type="line", xref="paper", yref="paper", x0=-ML / PW, x1=(VISIBLE_RIGHT - ML) / PW,
             y0=1 + (MT - 1) / PH, y1=1 + (MT - 1) / PH, line=dict(color="#707070", width=2)),
    ],
    annotations=annotations,
)

fig.write_html("out.html")
